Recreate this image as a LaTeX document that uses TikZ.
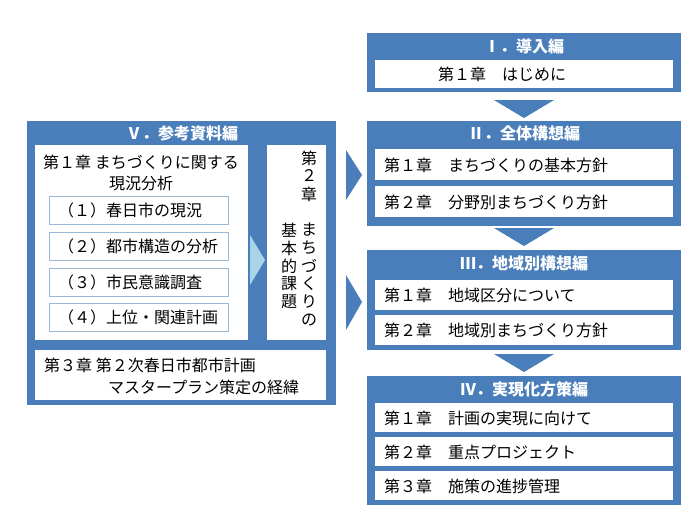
\documentclass[tikz,border=0pt]{standalone}
\usepackage{fontspec}
\setmainfont{Noto Sans CJK JP}
\definecolor{mb}{HTML}{4A7EBB}
\definecolor{lb}{HTML}{A9D4E8}
\definecolor{sb}{HTML}{9AB8D8}
\begin{document}
\begin{tikzpicture}[x=1pt,y=-1pt,
  blk/.style={fill=mb,draw=none},
  wbox/.style={fill=white,draw=none},
  hd/.style={text=white,font=\fontsize{16}{18}\selectfont\bfseries},
  tx/.style={font=\fontsize{16}{18}\selectfont,anchor=west,inner sep=0pt},
  vt/.style={font=\fontsize{16}{18}\selectfont,inner sep=0pt}]
\useasboundingbox (0,0) rectangle (690,531);
% right column
\fill[blk] (367,33) rectangle (681,92);
\node[hd] (h1) at (524,46) {Ⅰ．導入編};
\fill[wbox] (375,60) rectangle (673,88);
\node[tx] (c11) at (438,74) {第１章　はじめに};
\fill[mb] (494,100) -- (554,100) -- (524,118) -- cycle;

\fill[blk] (367,121) rectangle (681,226);
\node[hd] (h2) at (524,133) {Ⅱ．全体構想編};
\fill[wbox] (375,149) rectangle (673,180);
\node[tx] (c21) at (384,165) {第１章　まちづくりの基本方針};
\fill[wbox] (375,186) rectangle (673,217);
\node[tx] (c22) at (384,202) {第２章　分野別まちづくり方針};
\fill[mb] (494,228) -- (554,228) -- (524,246) -- cycle;

\fill[blk] (367,250) rectangle (681,350);
\node[hd] (h3) at (524,263) {Ⅲ．地域別構想編};
\fill[wbox] (375,280) rectangle (673,310);
\node[tx] (c31) at (384,295) {第１章　地域区分について};
\fill[wbox] (375,315) rectangle (673,345);
\node[tx] (c32) at (384,330) {第２章　地域別まちづくり方針};
\fill[mb] (494,354) -- (554,354) -- (524,372) -- cycle;

\fill[blk] (367,376) rectangle (681,505);
\node[hd] (h4) at (524,389) {Ⅳ．実現化方策編};
\fill[wbox] (375,403) rectangle (673,432);
\node[tx] (c41) at (384,418) {第１章　計画の実現に向けて};
\fill[wbox] (375,437) rectangle (673,466);
\node[tx] (c42) at (384,452) {第２章　重点プロジェクト};
\fill[wbox] (375,471) rectangle (673,500);
\node[tx] (c43) at (384,486) {第３章　施策の進捗管理};

% right chevrons
\fill[mb] (346,150) -- (362,175) -- (346,200) -- cycle;
\fill[mb] (346,275) -- (362,302) -- (346,330) -- cycle;

% left block
\fill[blk] (27,121) rectangle (336,405);
\node[hd] (h5) at (182,133) {Ⅴ．参考資料編};
\fill[wbox] (35,145) rectangle (248,340);
\node[font=\fontsize{16}{21}\selectfont,align=center,inner sep=0pt] (c51) at (141,173) {第１章 まちづくりに関する\\現況分析};
\foreach \y/\t in {210/（１）春日市の現況,246/（２）都市構造の分析,282/（３）市民意識調査,317/（４）上位・関連計画}{
  \draw[sb,fill=white] (49,\y-14) rectangle (228,\y+14);
  \node[tx] at (58,\y) {\t};
}
\fill[lb] (250,235) -- (265,260) -- (250,285) -- cycle;
\fill[wbox] (267,145) rectangle (326,340);
\foreach \c [count=\i] in {第,２,章,{},ま,ち,づ,く,り,の}{
  \node[vt] at (309,140+\i*18) {\c};
}
\foreach \c [count=\i] in {基,本,的,課,題}{
  \node[vt] at (289,212+\i*18) {\c};
}
\fill[wbox] (35,350) rectangle (326,400);
\node[tx] (c53) at (44,365) {第３章 第２次春日市都市計画};
\node[tx] (c54) at (108,387) {マスタープラン策定の経緯};
\end{tikzpicture}
\end{document}
